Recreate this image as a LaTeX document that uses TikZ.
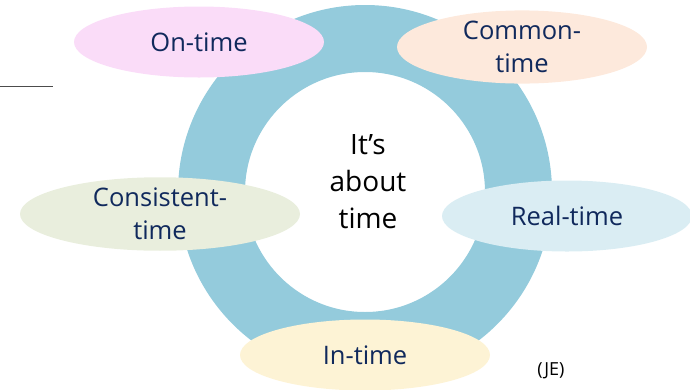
\documentclass[tikz,border=0pt]{standalone}
\usepackage{fontspec}
\setmainfont{Open Sans}
\usetikzlibrary{positioning, shapes}

\definecolor{anel}{HTML}{94CBDC}
\definecolor{texto}{HTML}{10295C}
\definecolor{rosa}{HTML}{FADCF8}
\definecolor{pessego}{HTML}{FDE9DC}
\definecolor{verde}{HTML}{E9EEDD}
\definecolor{azul}{HTML}{DAEDF3}
\definecolor{amarelo}{HTML}{FDF3D5}

\begin{document}
\begin{tikzpicture}[
    x=1pt,
    y=-1pt,
    rotulo/.style={ellipse, minimum width=250pt, minimum height=71pt, inner sep=0pt,
                   align=center, text=texto, font=\fontsize{25.5}{33}\selectfont},
    anelfundo/.style={draw=anel, line width=67pt}
  ]
  \useasboundingbox (0,0) rectangle (690,389);

  % --- ANEL CENTRAL ---
  \node[align=center, font=\fontsize{28}{37}\selectfont] (centro) at (368,182) {It's\\about\\time};
  \coordinate (meio) at (365,192);
  \draw[anelfundo] (meio) circle (153.5);

  % --- ELIPSES ---
  \node[rotulo, fill=rosa] (ontime) at (199,42) {On-time};
  \node[rotulo, fill=pessego] (common) at (522,47) {Common-\\time};
  \node[rotulo, fill=verde, minimum width=280pt] (consistent) at (160,214) {Consistent-\\time};
  \node[rotulo, fill=azul] (real) at (567,216) {Real-time};
  \node[rotulo, fill=amarelo] (intime) at (365,355) {In-time};

  % --- DETALHES ---
  \coordinate (linhaA) at (0,86);
  \coordinate (linhaB) at (53,86);
  \draw[black!70, line width=0.8pt] (linhaA) -- (linhaB);
  \node[font=\fontsize{18}{20}\selectfont] (autor) at (551,371) {(JE)};

\end{tikzpicture}
\end{document}
